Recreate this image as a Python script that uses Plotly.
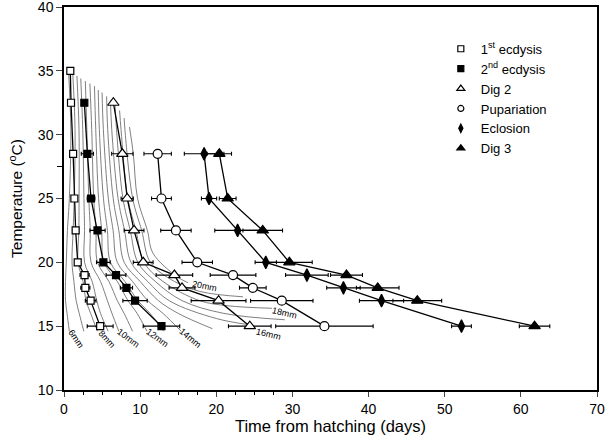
import plotly.graph_objects as go

# ---------------- data ----------------
temps_1st = [35, 32.5, 28.5, 25, 22.5, 20, 19, 18, 17, 15]
time_1st = [0.83, 0.92, 1.2, 1.36, 1.53, 1.8, 2.7, 2.8, 3.5, 4.75]
err_1st = [0.2, 0.2, 0.3, 0.2, 0.2, 0.3, 0.6, 0.6, 0.7, 1.7]

temps_2nd = [32.5, 28.5, 25, 22.5, 20, 19, 18, 17, 15]
time_2nd = [2.67, 3.07, 3.55, 4.4, 5.17, 6.83, 8.2, 9.33, 12.8]
err_2nd = [0.2, 0.8, 0.5, 1.0, 0.9, 1.3, 0.8, 1.6, 2.4]

temps_dig2 = [32.5, 28.5, 25, 22.5, 20, 19, 18, 17, 15]
time_dig2 = [6.48, 7.66, 8.3, 9.2, 10.4, 14.5, 15.5, 20.3, 24.4]
err_dig2 = [0.2, 1.4, 0.8, 1.3, 1.3, 2.4, 1.7, 3.6, 2.8]

temps_pup = [28.5, 25, 22.5, 20, 19, 18, 17, 15]
time_pup = [12.3, 12.8, 14.7, 17.5, 22.2, 24.8, 28.6, 34.2]
err_pup = [1.8, 1.3, 2.0, 2.0, 3.0, 1.75, 4.1, 6.4]

temps_ecl = [28.5, 25, 22.5, 20, 19, 18, 17, 15]
time_ecl = [18.4, 19.05, 22.8, 26.5, 31.9, 36.7, 41.7, 52.2]
err_ecl = [2.6, 1.0, 3.0, 1.4, 2.8, 2.2, 2.9, 1.3]

temps_dig3 = [28.5, 25, 22.5, 20, 19, 18, 17, 15]
time_dig3 = [20.4, 21.5, 26.1, 29.6, 37.1, 41.2, 46.4, 61.8]
err_dig3 = [1.6, 1.1, 2.6, 3.0, 2.1, 2.8, 3.2, 2.0]

iso_lengths = [6, 7, 8, 9, 10, 11, 12, 13, 14, 15, 16, 17, 18, 19, 20]
iso_temps = [
    [34.9, 30.4, 25, 22.5, 20, 18.5, 17, 16, 14.6],
    [34.8, 30.4, 25, 22.5, 20, 18.5, 17, 16, 14.6],
    [34.6, 30.4, 25, 22.5, 20, 18.5, 17, 16, 14.6],
    [34.4, 30.4, 25, 22.5, 20, 18.5, 17, 16, 14.6],
    [34.2, 30.4, 25, 22.5, 20, 18.5, 17, 16, 14.6],
    [34.0, 30.4, 25, 22.5, 20, 18.5, 17, 16, 14.6],
    [33.8, 30.4, 25, 22.5, 20, 18.5, 17, 16, 14.6],
    [33.5, 30.4, 25, 22.5, 20, 18.5, 17, 16, 14.6],
    [33.3, 30.4, 25, 22.5, 20, 18.5, 17, 16, 14.6],
    [33.0, 30.4, 25, 22.5, 20, 18.5, 17, 16, 14.8],
    [32.7, 30.4, 25, 22.5, 20, 18.5, 17, 15.6, 15.1],
    [32.4, 30.4, 25, 22.5, 20, 18.5, 17, 16, 15.5],
    [31.9, 30.4, 25, 22.5, 20, 18.5, 17, 16.6, 16.4],
    [31.3, 30.4, 25, 22.5, 20, 18.5, 17.7, 17.3],
    [30.6, 28.5, 25, 22.5, 20.7, 18.9, 18.4],
]
iso_times = [
    [0.6, 0.9, 0.7, 0.45, 0.3, 0.2, 0.2, 0.4, 0.7],
    [1.15, 1.45, 1.34, 1.2, 1.05, 1.3, 1.6, 2.0, 2.6],
    [1.7, 1.97, 1.98, 1.95, 1.85, 2.5, 2.9, 3.5, 4.4],
    [2.2, 2.46, 2.62, 2.7, 2.7, 3.7, 4.3, 4.8, 5.8],
    [2.8, 3.0, 3.26, 3.45, 3.55, 4.8, 5.7, 6.3, 7.2],
    [3.4, 3.64, 3.9, 4.2, 4.4, 5.9, 7.0, 7.9, 9.0],
    [4.0, 4.17, 4.54, 4.95, 5.25, 7.0, 8.4, 9.6, 10.9],
    [4.5, 4.64, 5.18, 5.7, 6.1, 8.0, 9.7, 11.3, 13.1],
    [5.0, 5.17, 5.82, 6.45, 7.0, 9.0, 11.0, 13.0, 15.4],
    [5.6, 5.74, 6.46, 7.2, 7.9, 10.0, 12.4, 15.0, 19.5],
    [6.1, 6.27, 7.1, 7.95, 8.8, 11.0, 13.8, 20.0, 24.5],
    [6.7, 6.9, 7.74, 8.7, 9.7, 12.0, 15.5, 21.0, 29.0],
    [7.3, 7.49, 8.38, 9.45, 10.5, 13.0, 17.8, 21.5, 27.3],
    [7.9, 8.0, 9.02, 10.2, 11.35, 14.5, 18.0, 23.5],
    [8.6, 9.1, 9.66, 10.95, 11.7, 14.8, 16.3],
]

iso_label_text = ["6mm", "8mm", "10mm", "12mm", "14mm", "16mm", "18mm", "20mm"]
iso_label_t = [1.6, 5.6, 8.45, 12.3, 16.6, 26.8, 29.0, 18.4]
iso_label_T = [14.0, 14.0, 14.1, 14.1, 14.1, 14.4, 16.05, 18.15]
iso_label_angle = [56, 48, 37, 36, 40, 13, 13, 11]

x_ticks = [0, 10, 20, 30, 40, 50, 60, 70]
x_minor = [2.5, 5, 7.5, 12.5, 15, 17.5, 22.5, 25, 27.5]
y_ticks = [10, 15, 20, 25, 30, 35, 40]
y_minor = [27.5]

FONT = "Arial, Liberation Sans, Helvetica, sans-serif"

fig = go.Figure()

# isolines
for L, Ts, ts in zip(iso_lengths, iso_temps, iso_times):
    fig.add_trace(go.Scatter(
        x=ts, y=Ts, mode="lines", line=dict(color="#707070", width=0.9, shape="spline", smoothing=1.0),
        showlegend=False, hoverinfo="skip"))

for txt, tx, ty, ang in zip(iso_label_text, iso_label_t, iso_label_T, iso_label_angle):
    fig.add_annotation(x=tx, y=ty, text=txt, showarrow=False, textangle=ang,
                       font=dict(family=FONT, size=9, color="black"))

series = [
    ("1<sup>st</sup> ecdysis", time_1st, temps_1st, err_1st, "square", "white", 7),
    ("2<sup>nd</sup> ecdysis", time_2nd, temps_2nd, err_2nd, "square", "black", 7),
    ("Dig 2", time_dig2, temps_dig2, err_dig2, "triangle-up", "white", 10),
    ("Pupariation", time_pup, temps_pup, err_pup, "circle", "white", 9),
    ("Eclosion", time_ecl, temps_ecl, err_ecl, "diamond-tall", "black", 9),
    ("Dig 3", time_dig3, temps_dig3, err_dig3, "triangle-up", "black", 10),
]

for name, xs, ys, errs, sym, fill, size in series:
    fig.add_trace(go.Scatter(
        x=xs, y=ys, mode="lines+markers",
        line=dict(color="black", width=1.3),
        marker=dict(symbol=sym, size=size, color=fill, line=dict(color="black", width=1.2)),
        error_x=dict(type="data", array=errs, visible=True, color="black", thickness=1.1, width=2),
        showlegend=False, hoverinfo="skip"))

for name, xs, ys, errs, sym, fill, size in series:
    fig.add_trace(go.Scatter(
        x=[None], y=[None], mode="markers", name=name,
        marker=dict(symbol=sym, size=max(6, size - 3), color=fill, line=dict(color="black", width=1.2))))

fig.update_layout(
    width=609, height=443,
    margin=dict(l=64, r=12, t=7, b=53, autoexpand=False),
    paper_bgcolor="white", plot_bgcolor="white",
    font=dict(family=FONT, size=14, color="black"),
    legend=dict(x=0.707, y=0.93, xanchor="left", yanchor="top",
                bgcolor="rgba(0,0,0,0)", font=dict(family=FONT, size=13),
                itemsizing="trace", tracegroupgap=0),
)
fig.update_xaxes(
    range=[0, 70], tickvals=x_ticks, ticks="outside", ticklen=5, tickwidth=1.2, automargin=False,
    ticklabeloverflow="allow",
    minor=dict(tickvals=x_minor, ticks="outside", ticklen=3.5, tickwidth=1.2, tickcolor="black"),
    showline=True, linecolor="black", linewidth=1.5, mirror=True, showgrid=False, zeroline=False,
    tickfont=dict(size=14), title=dict(text="Time from hatching (days)", font=dict(size=16.5), standoff=3))
fig.update_yaxes(
    range=[10, 40], tickvals=y_ticks, ticks="outside", ticklen=6, tickwidth=1.2, automargin=False,
    ticklabeloverflow="allow",
    minor=dict(tickvals=y_minor, ticks="outside", ticklen=5, tickwidth=1.2, tickcolor="black"),
    showline=True, linecolor="black", linewidth=1.5, mirror=True, showgrid=False, zeroline=False,
    tickfont=dict(size=14), title=dict(text="Temperature (<sup>o</sup>C)", font=dict(size=15.5), standoff=11))

fig.write_html("out.html", config={"displayModeBar": False},
               post_script="document.body.style.margin='0px';document.body.style.overflow='hidden';")
